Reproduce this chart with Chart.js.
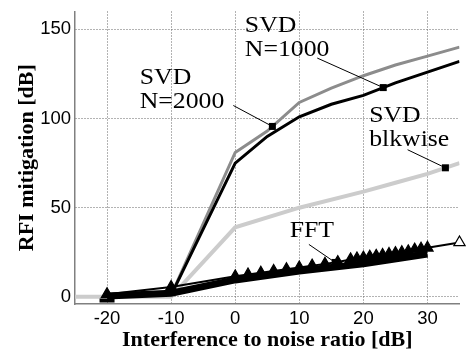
<!DOCTYPE html>
<html>
<head>
<meta charset="utf-8">
<script src="https://cdn.jsdelivr.net/npm/chart.js@4.4.0/dist/chart.umd.min.js"></script>
<style>
  html, body { margin: 0; padding: 0; background: #fff; }
  #wrap { width: 471px; height: 358px; }
</style>
</head>
<body>
<div id="wrap"><canvas id="chart" width="471" height="358"></canvas></div>
<script>
const xTicks = [-20, -10, 0, 10, 20, 30];
const yTicks = [0, 50, 100, 150];

// SVD, N=2000 (grey)
const svd2000X = [-10, 0, 5, 10, 15, 20, 25, 30, 35];
const svd2000Y = [1, 81, 93, 109, 117, 124, 130, 135, 140];
// SVD, N=1000 (black)
const svd1000X = [-10, 0, 5, 10, 15, 20, 25, 30, 35];
const svd1000Y = [1, 75, 90, 101, 108, 113, 120, 126, 132];
// SVD blockwise (light grey)
const blkX = [-25, -10, 0, 10, 20, 25, 30, 35];
const blkY = [0, 0, 39, 50, 59, 64, 69, 75];
// FFT with triangle markers
const fftX = [-20, -10, 0, 2, 4, 6, 8, 10, 12, 14, 16, 18, 19, 20, 21, 22, 23, 24, 25, 26, 27, 28, 29, 30, 35];
const fftY = [1.5, 5.5, 11.5, 12.5, 13.5, 14.5, 15.5, 16.5, 17.5, 18.5, 19.5, 21, 21.5, 22, 22.5, 23, 23.5, 24, 24.5, 25, 25.5, 26.5, 27, 27.5, 30.5];
// FFT thick band under the markers
const fftBandX = [-20, -10, 0, 10, 20, 30];
const fftBandY = [0.5, 2, 9.5, 14.5, 18.5, 24];
// short black stub at -20
const stubX = [-20];
const stubY = [-2];

const series = {
  n2000: [svd2000X, svd2000Y],
  n1000: [svd1000X, svd1000Y],
  blk: [blkX, blkY],
  fft: [fftX, fftY]
};

const notes = [
  { lines: ['SVD', 'N=1000'], textX: 1.5, textY: 148.5, fromX: 12.8, fromY: 133.9, series: 'n1000', atX: 23.1 },
  { lines: ['SVD', 'N=2000'], textX: -14.9, textY: 119.2, fromX: -0.3, fromY: 107.3, series: 'n2000', atX: 5.8 },
  { lines: ['SVD', 'blkwise'], textX: 20.9, textY: 98.1, fromX: 26.9, fromY: 82.5, series: 'blk', atX: 32.8 },
  { lines: ['FFT'], textX: 8.5, textY: 33.4, fromX: 11.5, fromY: 29.4, series: 'fft', atX: 15.6 }
];

const pts = (xs, ys) => xs.map((x, i) => ({ x: x, y: ys[i] }));

function interp(xs, ys, v) {
  for (let i = 1; i < xs.length; i++) {
    if (v <= xs[i]) {
      const t = (v - xs[i - 1]) / (xs[i] - xs[i - 1]);
      return ys[i - 1] + t * (ys[i] - ys[i - 1]);
    }
  }
  return ys[ys.length - 1];
}

// drop the automatic label padding so the plot box lands where the reference has it
function noPad(s) {
  s.paddingTop = 0;
  s.paddingBottom = 0;
  s.paddingLeft = 0;
  s.paddingRight = 0;
}

const notesPlugin = {
  id: 'notes',
  afterDatasetsDraw(chart) {
    const { ctx, scales: { x, y } } = chart;
    ctx.save();
    notes.forEach((n) => {
      const [sx, sy] = series[n.series];
      const px = x.getPixelForValue(n.atX);
      const py = y.getPixelForValue(interp(sx, sy, n.atX));
      ctx.strokeStyle = '#000';
      ctx.lineWidth = 1;
      ctx.beginPath();
      ctx.moveTo(x.getPixelForValue(n.fromX), y.getPixelForValue(n.fromY));
      ctx.lineTo(px, py);
      ctx.stroke();
      ctx.fillStyle = '#000';
      ctx.fillRect(px - 3.5, py - 3.5, 7, 7);

      ctx.font = '23px "Liberation Serif"';
      ctx.textBaseline = 'alphabetic';
      ctx.textAlign = 'left';
      const tx = x.getPixelForValue(n.textX);
      const ty = y.getPixelForValue(n.textY);
      n.lines.forEach((t, i) => {
        ctx.save();
        ctx.translate(tx, ty + i * 24);
        ctx.scale(1.12, 1);
        ctx.fillText(t, 0, 0);
        ctx.restore();
      });
    });
    ctx.restore();
  }
};

new Chart(document.getElementById('chart'), {
  type: 'line',
  data: {
    datasets: [
      {
        label: 'FFT',
        data: pts(fftX, fftY),
        borderColor: '#000',
        borderWidth: 2,
        pointStyle: 'triangle',
        pointRadius: 6.5,
        pointBorderWidth: 1.2,
        pointBorderColor: '#000',
        pointBackgroundColor: (c) => (c.dataIndex === fftX.length - 1 ? '#fff' : '#000'),
        clip: 8
      },
      {
        label: 'FFT band',
        data: pts(fftBandX, fftBandY),
        borderColor: '#000',
        borderWidth: 7,
        pointRadius: 0
      },
      {
        label: 'stub',
        data: pts(stubX, stubY),
        showLine: false,
        pointStyle: 'line',
        pointRadius: 7.5,
        pointBorderWidth: 4,
        pointBorderColor: '#000'
      },
      {
        label: 'SVD N=1000',
        data: pts(svd1000X, svd1000Y),
        borderColor: '#000',
        borderWidth: 3,
        pointRadius: 0
      },
      {
        label: 'SVD N=2000',
        data: pts(svd2000X, svd2000Y),
        borderColor: '#8c8c8c',
        borderWidth: 3,
        pointRadius: 0
      },
      {
        label: 'SVD blkwise',
        data: pts(blkX, blkY),
        borderColor: '#cccccc',
        borderWidth: 4,
        pointRadius: 0
      }
    ]
  },
  options: {
    responsive: false,
    animation: false,
    devicePixelRatio: 1,
    layout: { padding: { top: 4, right: 6, left: 0, bottom: 0 } },
    plugins: { legend: { display: false }, tooltip: { enabled: false } },
    scales: {
      x: {
        type: 'linear',
        min: -25,
        max: 35,
        afterBuildTicks: (s) => { s.ticks = xTicks.map((v) => ({ value: v })); },
        afterFit: (s) => { s.height = 54; noPad(s); },
        grid: { color: '#666', lineWidth: 1, drawTicks: false },
        border: { display: true, color: '#808080', width: 1.5, dash: [1, 2] },
        ticks: { color: '#000', padding: 4, font: { family: 'Liberation Sans', size: 18.5 } },
        title: {
          display: true,
          text: 'Interference to noise ratio [dB]',
          color: '#000',
          font: { family: 'Liberation Serif', size: 22, weight: 'bold' },
          padding: { top: 0, bottom: 4 }
        }
      },
      y: {
        type: 'linear',
        min: -4,
        max: 160,
        afterBuildTicks: (s) => { s.ticks = yTicks.map((v) => ({ value: v })); },
        afterFit: (s) => { s.width = 75; noPad(s); },
        grid: { color: '#666', lineWidth: 1, drawTicks: false },
        border: { display: true, color: '#808080', width: 1.5, dash: [1, 2] },
        ticks: { color: '#000', padding: 4, font: { family: 'Liberation Sans', size: 18.5 } },
        title: {
          display: true,
          text: 'RFI mitigation [dB]',
          color: '#000',
          font: { family: 'Liberation Serif', size: 22, weight: 'bold' },
          padding: { top: 14, bottom: 0 }
        }
      }
    }
  },
  plugins: [notesPlugin]
});
</script>
</body>
</html>
